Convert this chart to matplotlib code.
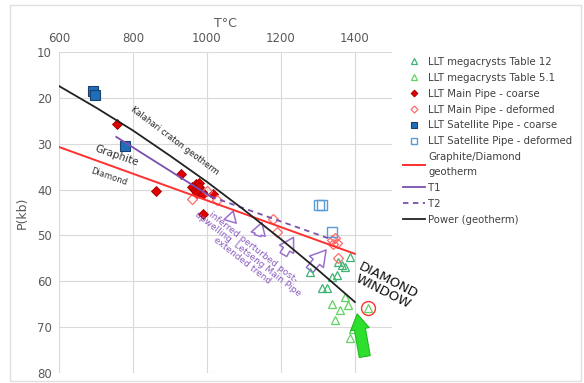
import matplotlib
matplotlib.use("Agg")
import matplotlib.pyplot as plt
from matplotlib.patches import FancyArrowPatch, Rectangle

# megacrysts (T degC, P kb)
mega12_T = [1278, 1311, 1324, 1338, 1351, 1354, 1365, 1373, 1386]
mega12_P = [58.0, 61.5, 61.5, 59.1, 58.6, 55.8, 56.4, 56.9, 54.7]
mega51_T = [1338, 1359, 1346, 1381, 1373, 1395, 1386, 1435]
mega51_P = [65.0, 66.3, 68.4, 65.2, 63.5, 70.4, 72.4, 65.8]

# LLT main pipe
main_coarse_T = [757, 930, 862, 959, 970, 978, 967, 978, 986, 973, 989, 1016, 989]
main_coarse_P = [25.7, 36.6, 40.2, 39.4, 38.8, 38.6, 40.1, 39.4, 40.5, 40.8, 41.0, 41.0, 45.3]
main_def_T = [960, 1000, 1027, 1178, 1189, 1338, 1346, 1351, 1340, 1354]
main_def_P = [42.1, 40.2, 42.2, 46.3, 49.3, 51.0, 50.6, 51.6, 51.9, 54.9]

# LLT satellite pipe
sat_coarse_T = [692, 697, 778]
sat_coarse_P = [18.5, 19.4, 30.5]
sat_def_T = [1302, 1310, 1338]
sat_def_P = [43.4, 43.4, 49.3]

# lines
gd_T = [600, 1400]
gd_P = [30.7, 54.0]
t1_T = [755, 1010]
t1_P = [28.5, 41.5]
t2_T = [1010, 1335]
t2_P = [41.5, 50.8]
geo_T = [600, 700, 800, 900, 1000, 1100, 1200, 1300, 1400]
geo_P = [17.4, 22.1, 27.1, 32.6, 38.3, 44.4, 50.8, 57.5, 64.5]

# upwelling arrows: (tail T, tail P, tip T, tip P, size)
up_arrows = [
    (1062, 47.1, 1073, 44.1, 14),
    (1135, 50.6, 1151, 46.6, 16),
    (1203, 54.7, 1238, 49.9, 18),
    (1273, 58.0, 1327, 52.7, 20),
]

purple = "#7a4fb0"
fig = plt.figure(figsize=(5.84, 3.83), dpi=100)
fig.patches.append(Rectangle((0.017, 0.005), 0.978, 0.982, transform=fig.transFigure,
                             fill=False, edgecolor="#e0e0e0", lw=1))
ax = fig.add_axes([0.101, 0.026, 0.57, 0.838])

ax.plot(mega12_T, mega12_P, "^", ms=6, mfc="none", mec="#3cb371", mew=0.9,
        label="LLT megacrysts Table 12")
ax.plot(mega51_T, mega51_P, "^", ms=6, mfc="none", mec="#5fd35f", mew=0.9,
        label="LLT megacrysts Table 5.1")
ax.plot(main_coarse_T, main_coarse_P, "D", ms=5, mfc="#e00000", mec="#a00000", mew=0.6,
        label="LLT Main Pipe - coarse")
ax.plot(main_def_T, main_def_P, "D", ms=5, mfc="none", mec="#ff6b6b", mew=0.9,
        label="LLT Main Pipe - deformed")
ax.plot(sat_coarse_T, sat_coarse_P, "s", ms=7, mfc="#1f6fb8", mec="#1b3f6e", mew=0.8,
        label="LLT Satellite Pipe - coarse")
ax.plot(sat_def_T, sat_def_P, "s", ms=7, mfc="none", mec="#5b9bd5", mew=1,
        label="LLT Satellite Pipe - deformed")

ax.plot(gd_T, gd_P, color="#ff3030", lw=1.4, label="Graphite/Diamond\ngeotherm")
ax.plot(t1_T, t1_P, color=purple, lw=1.3, label="T1")
ax.plot(t2_T, t2_P, color=purple, lw=1.3, ls=(0, (3, 2.5)), label="T2")
ax.plot(geo_T, geo_P, color="#222222", lw=1.3, label="Power (geotherm)")

# circled megacryst
ax.plot([1435], [65.8], "o", ms=10, mfc="none", mec="#ff3030", mew=1)

for t0, p0, t1, p1, s in up_arrows:
    ax.add_patch(FancyArrowPatch((t0, p0), (t1, p1),
                 arrowstyle="simple,head_length=0.55,head_width=0.65,tail_width=0.3",
                 mutation_scale=s, facecolor="white", edgecolor="#9a70cc", lw=1.1))

ax.add_patch(FancyArrowPatch((1428, 77.0), (1405, 66.5),
             arrowstyle="simple,head_length=0.7,head_width=0.85,tail_width=0.5",
             mutation_scale=16, facecolor="#2ee02e", edgecolor="#22b822", lw=0.8, zorder=5))

ax.text(912, 29.4, "Kalahari craton geotherm", fontsize=6.0, rotation=-37,
        ha="center", va="center", color="#222222")
ax.text(757, 32.5, "Graphite", fontsize=7.5, rotation=-19, ha="center", va="center", color="#333333")
ax.text(735, 37.3, "Diamond", fontsize=6, rotation=-19, ha="center", va="center", color="#333333")
ax.text(1110, 54.0, "inferred perturbed post-\nupwelling  Letseng Main Pipe\nextended trend",
        fontsize=6.5, rotation=-38, ha="center", va="center", color="#8a5cc0",
        linespacing=0.95)
ax.text(1483, 61.0, "DIAMOND\nWINDOW", fontsize=9.5, rotation=-27, ha="center", va="center",
        color="#111111", linespacing=0.95, clip_on=False)

ax.set_xlim(600, 1500)
ax.set_ylim(80, 10)
ax.set_xticks([600, 800, 1000, 1200, 1400])
ax.set_yticks(range(10, 81, 10))
ax.xaxis.tick_top()
ax.xaxis.set_label_position("top")
ax.set_xlabel("T°C", fontsize=9, color="#595959", labelpad=4)
ax.set_ylabel("P(kb)", fontsize=9, color="#595959", labelpad=6)
ax.tick_params(length=0, labelsize=8.5, labelcolor="#595959", pad=5)
ax.grid(color="#d9d9d9", lw=0.8)
ax.set_axisbelow(True)
for sp in ax.spines.values():
    sp.set_visible(False)

leg = fig.legend(loc="upper left", bbox_to_anchor=(0.683, 0.862), frameon=False, fontsize=7.3,
                 handlelength=2.2, handletextpad=0.3, labelspacing=0.58, markerscale=0.7,
                 borderaxespad=0, labelcolor="#404040")
for t in leg.get_texts():
    t.set_linespacing(1.6)

fig.savefig("out.png", dpi=100)
